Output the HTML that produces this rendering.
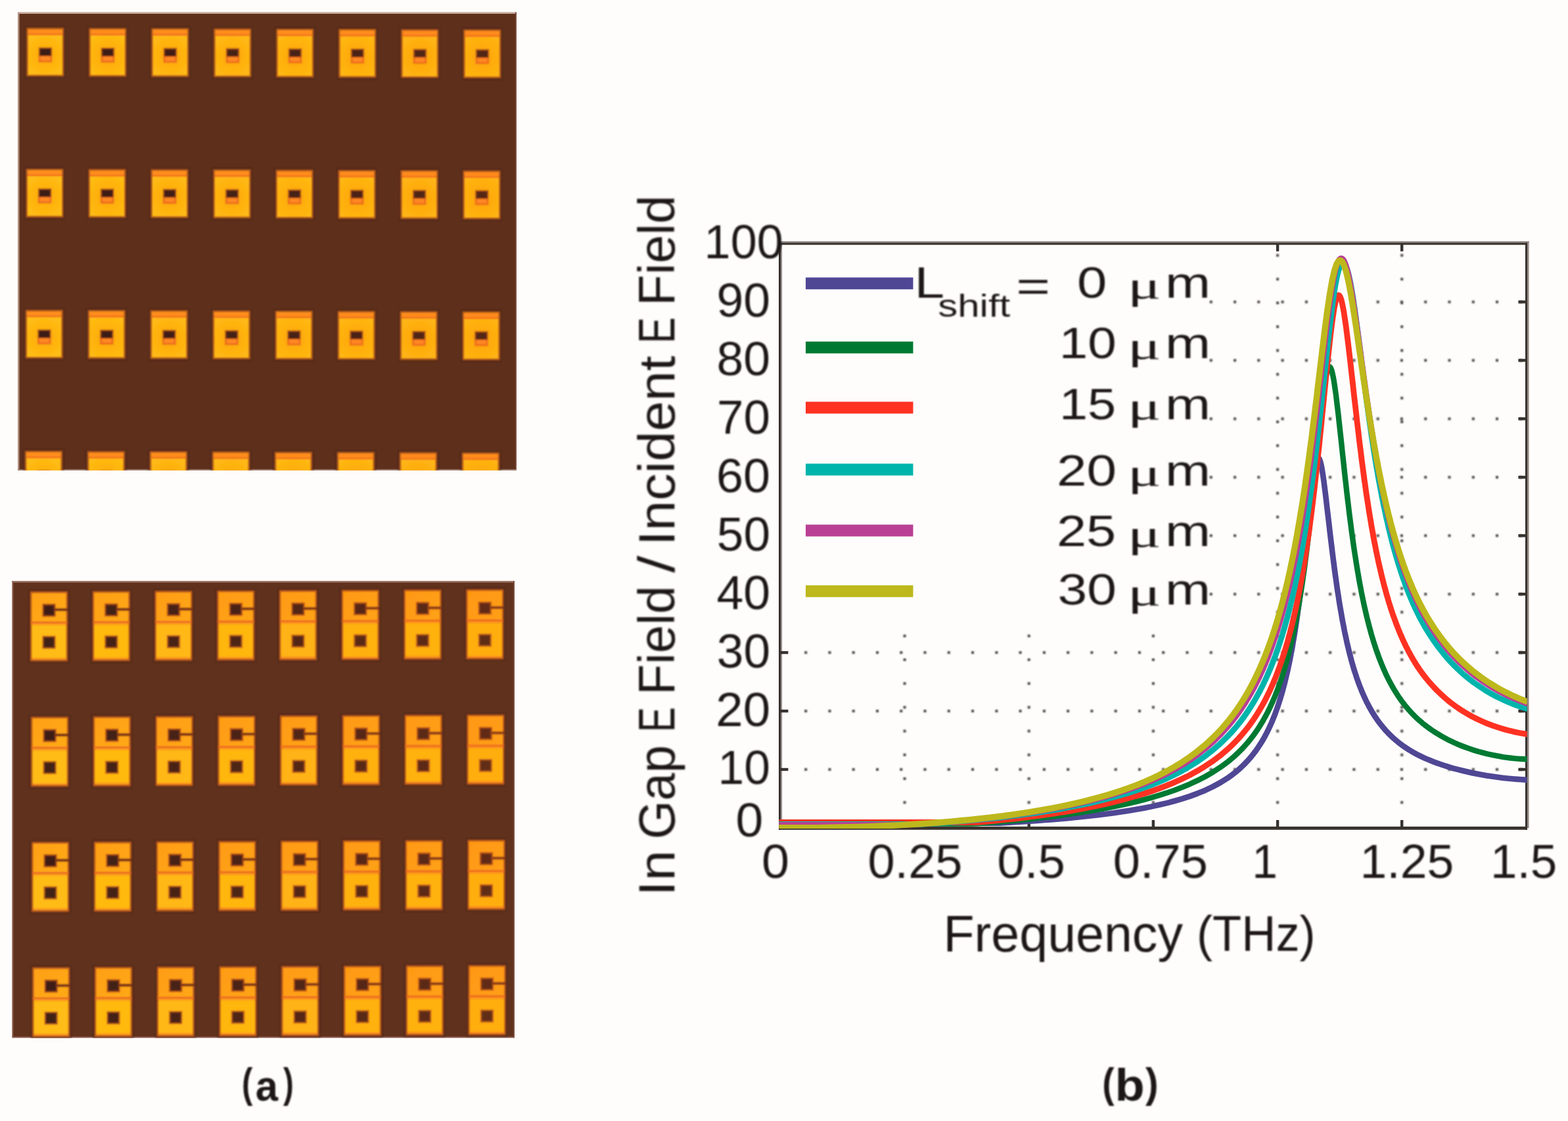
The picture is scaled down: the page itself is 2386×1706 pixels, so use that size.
<!DOCTYPE html>
<html lang="en"><head><meta charset="utf-8"><title>Figure</title>
<style>
html,body{margin:0;padding:0;background:#fefdfc;}
body{width:2386px;height:1706px;overflow:hidden;}
svg{display:block;}
text{font-family:"Liberation Sans",sans-serif;fill:#1c1816;}
</style></head><body>
<svg width="2386" height="1706" viewBox="0 0 2386 1706">
<defs>
<filter id="b1" x="-5%" y="-5%" width="110%" height="110%"><feGaussianBlur stdDeviation="1.3"/></filter>
<filter id="b3" x="-1%" y="-1%" width="102%" height="102%"><feGaussianBlur stdDeviation="0.9"/></filter>
<filter id="b4" x="-2%" y="-2%" width="104%" height="104%"><feGaussianBlur stdDeviation="0.95"/></filter>
<filter id="b2" x="-5%" y="-5%" width="110%" height="110%"><feGaussianBlur stdDeviation="0.7"/></filter>
<radialGradient id="gg" gradientUnits="userSpaceOnUse" cx="28.5" cy="42" r="40"><stop offset="0" stop-color="#ffa50e"/><stop offset="0.45" stop-color="#ffb410"/><stop offset="1" stop-color="#ffc014"/></radialGradient>
<g id="ca">
<rect x="-2.5" y="-2.5" width="62" height="79" fill="#4a2414" opacity="0.5"/>
<rect x="0" y="0" width="57" height="74" fill="#b45a1c"/>
<rect x="2.5" y="2.5" width="52" height="69" fill="url(#gg)"/>
<rect x="2.5" y="2.5" width="52" height="6.6" fill="#ff8e1c"/>
<rect x="2.5" y="8.8" width="52" height="2.4" fill="#f06c22"/>
<rect x="17.9" y="29.3" width="21.6" height="23.8" fill="#f09812"/>
<rect x="18.9" y="30.3" width="19.6" height="13" fill="#8e3e18"/>
<rect x="18.9" y="43" width="19.6" height="9.1" fill="#ee6a20"/>
<rect x="20.8" y="32.2" width="15.8" height="9.8" fill="#3a1c14"/>
<rect x="21.4" y="43.8" width="14.6" height="6" fill="#ff8a24"/>
</g>
<linearGradient id="gu" x1="0" y1="0" x2="1" y2="1"><stop offset="0" stop-color="#ffa012"/><stop offset="1" stop-color="#ffaa18"/></linearGradient>
<g id="cb">
<rect x="-2.5" y="-2.5" width="62" height="111.5" fill="#4a2414" opacity="0.5"/>
<rect x="0" y="0" width="57" height="106.5" fill="#b8581e"/>
<rect x="2.4" y="2.6" width="52.2" height="44" fill="url(#gu)"/>
<rect x="0.8" y="45.9" width="55.4" height="3" fill="#ea6a24"/>
<rect x="2.4" y="48.8" width="52.2" height="3" fill="#ffa01c"/>
<rect x="2.4" y="51.6" width="52.2" height="49.8" fill="#ffbc12"/>
<rect x="2.4" y="101.2" width="52.2" height="2.6" fill="#ff9c20"/>
<rect x="17.8" y="18.2" width="21.4" height="21" fill="#f08a14"/><rect x="18.8" y="19.2" width="19.4" height="19" fill="#94401a"/>
<rect x="20.8" y="21.4" width="15.4" height="14.8" fill="#3e1e16"/>
<rect x="36" y="25.6" width="21" height="4.6" fill="#a04a18"/><rect x="36" y="26.6" width="21" height="2.6" fill="#6e3016"/>
<rect x="17.8" y="67" width="21.4" height="21" fill="#f8a014"/><rect x="18.8" y="68" width="19.4" height="19" fill="#9a481a"/>
<rect x="20.8" y="70" width="15.4" height="15" fill="#402018"/>
</g>
</defs>
<rect width="2386" height="1706" fill="#fefdfc"/>

<clipPath id="cpa"><rect x="27.2" y="18.5" width="758.8" height="697.5"/></clipPath>
<g clip-path="url(#cpa)"><rect x="27.2" y="18.5" width="758.8" height="697.5" fill="#5e301c"/>
<rect x="27.2" y="18.5" width="758.8" height="2.5" fill="#c9aa9c"/><rect x="27.2" y="18.5" width="2.2" height="697.5" fill="#b89888"/><rect x="784" y="18.5" width="2" height="697.5" fill="#7a4a3c"/><rect x="27.2" y="714" width="758.8" height="2" fill="#9a7a6c"/>
<g filter="url(#b1)">
<use href="#ca" x="40.3" y="42.3"/>
<use href="#ca" x="135.3" y="42.7"/>
<rect x="136.3" y="43.7" width="55" height="72" fill="#ff7a10" opacity="0.018"/>
<use href="#ca" x="230.3" y="43.0"/>
<rect x="231.3" y="44.0" width="55" height="72" fill="#ff7a10" opacity="0.036"/>
<use href="#ca" x="325.3" y="43.4"/>
<rect x="326.3" y="44.4" width="55" height="72" fill="#ff7a10" opacity="0.054"/>
<use href="#ca" x="420.3" y="43.8"/>
<rect x="421.3" y="44.8" width="55" height="72" fill="#ff7a10" opacity="0.072"/>
<use href="#ca" x="515.3" y="44.1"/>
<rect x="516.3" y="45.1" width="55" height="72" fill="#ff7a10" opacity="0.090"/>
<use href="#ca" x="610.3" y="44.5"/>
<rect x="611.3" y="45.5" width="55" height="72" fill="#ff7a10" opacity="0.108"/>
<use href="#ca" x="705.3" y="44.9"/>
<rect x="706.3" y="45.9" width="55" height="72" fill="#ff7a10" opacity="0.126"/>
<use href="#ca" x="39.5" y="256.9"/>
<use href="#ca" x="134.5" y="257.3"/>
<rect x="135.5" y="258.3" width="55" height="72" fill="#ff7a10" opacity="0.018"/>
<use href="#ca" x="229.5" y="257.6"/>
<rect x="230.5" y="258.6" width="55" height="72" fill="#ff7a10" opacity="0.036"/>
<use href="#ca" x="324.5" y="258.0"/>
<rect x="325.5" y="259.0" width="55" height="72" fill="#ff7a10" opacity="0.054"/>
<use href="#ca" x="419.5" y="258.4"/>
<rect x="420.5" y="259.4" width="55" height="72" fill="#ff7a10" opacity="0.072"/>
<use href="#ca" x="514.5" y="258.8"/>
<rect x="515.5" y="259.8" width="55" height="72" fill="#ff7a10" opacity="0.090"/>
<use href="#ca" x="609.5" y="259.1"/>
<rect x="610.5" y="260.1" width="55" height="72" fill="#ff7a10" opacity="0.108"/>
<use href="#ca" x="704.5" y="259.5"/>
<rect x="705.5" y="260.5" width="55" height="72" fill="#ff7a10" opacity="0.126"/>
<use href="#ca" x="38.7" y="471.5"/>
<use href="#ca" x="133.7" y="471.9"/>
<rect x="134.7" y="472.9" width="55" height="72" fill="#ff7a10" opacity="0.018"/>
<use href="#ca" x="228.7" y="472.2"/>
<rect x="229.7" y="473.2" width="55" height="72" fill="#ff7a10" opacity="0.036"/>
<use href="#ca" x="323.7" y="472.6"/>
<rect x="324.7" y="473.6" width="55" height="72" fill="#ff7a10" opacity="0.054"/>
<use href="#ca" x="418.7" y="473.0"/>
<rect x="419.7" y="474.0" width="55" height="72" fill="#ff7a10" opacity="0.072"/>
<use href="#ca" x="513.7" y="473.3"/>
<rect x="514.7" y="474.3" width="55" height="72" fill="#ff7a10" opacity="0.090"/>
<use href="#ca" x="608.7" y="473.7"/>
<rect x="609.7" y="474.7" width="55" height="72" fill="#ff7a10" opacity="0.108"/>
<use href="#ca" x="703.7" y="474.1"/>
<rect x="704.7" y="475.1" width="55" height="72" fill="#ff7a10" opacity="0.126"/>
<use href="#ca" x="37.9" y="686.1"/>
<use href="#ca" x="132.9" y="686.5"/>
<rect x="133.9" y="687.5" width="55" height="72" fill="#ff7a10" opacity="0.018"/>
<use href="#ca" x="227.9" y="686.8"/>
<rect x="228.9" y="687.8" width="55" height="72" fill="#ff7a10" opacity="0.036"/>
<use href="#ca" x="322.9" y="687.2"/>
<rect x="323.9" y="688.2" width="55" height="72" fill="#ff7a10" opacity="0.054"/>
<use href="#ca" x="417.9" y="687.6"/>
<rect x="418.9" y="688.6" width="55" height="72" fill="#ff7a10" opacity="0.072"/>
<use href="#ca" x="512.9" y="687.9"/>
<rect x="513.9" y="688.9" width="55" height="72" fill="#ff7a10" opacity="0.090"/>
<use href="#ca" x="607.9" y="688.3"/>
<rect x="608.9" y="689.3" width="55" height="72" fill="#ff7a10" opacity="0.108"/>
<use href="#ca" x="702.9" y="688.7"/>
<rect x="703.9" y="689.7" width="55" height="72" fill="#ff7a10" opacity="0.126"/>
</g></g>
<clipPath id="cpb"><rect x="18.4" y="884" width="764.6" height="695.5"/></clipPath>
<g clip-path="url(#cpb)"><rect x="18.4" y="884" width="764.6" height="695.5" fill="#60321e"/>
<rect x="18.4" y="884" width="764.6" height="2.5" fill="#a07868"/><rect x="18.4" y="884" width="2" height="695.5" fill="#8a5a48"/><rect x="781" y="884" width="2" height="695.5" fill="#7a4a3c"/><rect x="18.4" y="1577.5" width="764.6" height="2" fill="#8a5a4c"/>
<g filter="url(#b1)">
<use href="#cb" x="46.0" y="900.0"/>
<use href="#cb" x="140.8" y="899.5"/>
<rect x="141.8" y="900.5" width="55" height="104.5" fill="#ff7010" opacity="0.025"/>
<use href="#cb" x="235.5" y="899.1"/>
<rect x="236.5" y="900.1" width="55" height="104.5" fill="#ff7010" opacity="0.050"/>
<use href="#cb" x="330.3" y="898.6"/>
<rect x="331.3" y="899.6" width="55" height="104.5" fill="#ff7010" opacity="0.075"/>
<use href="#cb" x="425.0" y="898.2"/>
<rect x="426.0" y="899.2" width="55" height="104.5" fill="#ff7010" opacity="0.100"/>
<use href="#cb" x="519.8" y="897.7"/>
<rect x="520.8" y="898.7" width="55" height="104.5" fill="#ff7010" opacity="0.125"/>
<use href="#cb" x="614.6" y="897.2"/>
<rect x="615.6" y="898.2" width="55" height="104.5" fill="#ff7010" opacity="0.150"/>
<use href="#cb" x="709.3" y="896.8"/>
<rect x="710.3" y="897.8" width="55" height="104.5" fill="#ff7010" opacity="0.175"/>
<use href="#cb" x="47.1" y="1090.7"/>
<use href="#cb" x="141.8" y="1090.2"/>
<rect x="142.8" y="1091.2" width="55" height="104.5" fill="#ff7010" opacity="0.025"/>
<use href="#cb" x="236.6" y="1089.8"/>
<rect x="237.6" y="1090.8" width="55" height="104.5" fill="#ff7010" opacity="0.050"/>
<use href="#cb" x="331.4" y="1089.3"/>
<rect x="332.4" y="1090.3" width="55" height="104.5" fill="#ff7010" opacity="0.075"/>
<use href="#cb" x="426.1" y="1088.8"/>
<rect x="427.1" y="1089.8" width="55" height="104.5" fill="#ff7010" opacity="0.100"/>
<use href="#cb" x="520.9" y="1088.4"/>
<rect x="521.9" y="1089.4" width="55" height="104.5" fill="#ff7010" opacity="0.125"/>
<use href="#cb" x="615.6" y="1087.9"/>
<rect x="616.6" y="1088.9" width="55" height="104.5" fill="#ff7010" opacity="0.150"/>
<use href="#cb" x="710.4" y="1087.5"/>
<rect x="711.4" y="1088.5" width="55" height="104.5" fill="#ff7010" opacity="0.175"/>
<use href="#cb" x="48.1" y="1281.3"/>
<use href="#cb" x="142.9" y="1280.9"/>
<rect x="143.9" y="1281.9" width="55" height="104.5" fill="#ff7010" opacity="0.025"/>
<use href="#cb" x="237.7" y="1280.4"/>
<rect x="238.7" y="1281.4" width="55" height="104.5" fill="#ff7010" opacity="0.050"/>
<use href="#cb" x="332.4" y="1280.0"/>
<rect x="333.4" y="1281.0" width="55" height="104.5" fill="#ff7010" opacity="0.075"/>
<use href="#cb" x="427.2" y="1279.5"/>
<rect x="428.2" y="1280.5" width="55" height="104.5" fill="#ff7010" opacity="0.100"/>
<use href="#cb" x="521.9" y="1279.0"/>
<rect x="522.9" y="1280.0" width="55" height="104.5" fill="#ff7010" opacity="0.125"/>
<use href="#cb" x="616.7" y="1278.6"/>
<rect x="617.7" y="1279.6" width="55" height="104.5" fill="#ff7010" opacity="0.150"/>
<use href="#cb" x="711.5" y="1278.1"/>
<rect x="712.5" y="1279.1" width="55" height="104.5" fill="#ff7010" opacity="0.175"/>
<use href="#cb" x="49.2" y="1472.0"/>
<use href="#cb" x="144.0" y="1471.5"/>
<rect x="145.0" y="1472.5" width="55" height="104.5" fill="#ff7010" opacity="0.025"/>
<use href="#cb" x="238.7" y="1471.1"/>
<rect x="239.7" y="1472.1" width="55" height="104.5" fill="#ff7010" opacity="0.050"/>
<use href="#cb" x="333.5" y="1470.6"/>
<rect x="334.5" y="1471.6" width="55" height="104.5" fill="#ff7010" opacity="0.075"/>
<use href="#cb" x="428.2" y="1470.2"/>
<rect x="429.2" y="1471.2" width="55" height="104.5" fill="#ff7010" opacity="0.100"/>
<use href="#cb" x="523.0" y="1469.7"/>
<rect x="524.0" y="1470.7" width="55" height="104.5" fill="#ff7010" opacity="0.125"/>
<use href="#cb" x="617.8" y="1469.2"/>
<rect x="618.8" y="1470.2" width="55" height="104.5" fill="#ff7010" opacity="0.150"/>
<use href="#cb" x="712.5" y="1468.8"/>
<rect x="713.5" y="1469.8" width="55" height="104.5" fill="#ff7010" opacity="0.175"/>
</g></g>
<g filter="url(#b2)">
<g fill="#4a4644" filter="url(#b3)">
<rect x="1224.2" y="1169.0" width="4" height="4"/><rect x="1260.5" y="1169.0" width="4" height="4"/><rect x="1296.7" y="1169.0" width="4" height="4"/><rect x="1333.0" y="1169.0" width="4" height="4"/><rect x="1369.3" y="1169.0" width="4" height="4"/><rect x="1405.5" y="1169.0" width="4" height="4"/><rect x="1441.8" y="1169.0" width="4" height="4"/><rect x="1478.1" y="1169.0" width="4" height="4"/><rect x="1514.4" y="1169.0" width="4" height="4"/><rect x="1550.6" y="1169.0" width="4" height="4"/><rect x="1586.9" y="1169.0" width="4" height="4"/><rect x="1623.2" y="1169.0" width="4" height="4"/><rect x="1659.4" y="1169.0" width="4" height="4"/><rect x="1695.7" y="1169.0" width="4" height="4"/><rect x="1732.0" y="1169.0" width="4" height="4"/><rect x="1768.2" y="1169.0" width="4" height="4"/><rect x="1804.5" y="1169.0" width="4" height="4"/><rect x="1840.8" y="1169.0" width="4" height="4"/><rect x="1877.1" y="1169.0" width="4" height="4"/><rect x="1913.3" y="1169.0" width="4" height="4"/><rect x="1949.6" y="1169.0" width="4" height="4"/><rect x="1985.9" y="1169.0" width="4" height="4"/><rect x="2022.1" y="1169.0" width="4" height="4"/><rect x="2058.4" y="1169.0" width="4" height="4"/><rect x="2094.7" y="1169.0" width="4" height="4"/><rect x="2130.9" y="1169.0" width="4" height="4"/><rect x="2167.2" y="1169.0" width="4" height="4"/><rect x="2203.5" y="1169.0" width="4" height="4"/><rect x="2239.8" y="1169.0" width="4" height="4"/><rect x="2276.0" y="1169.0" width="4" height="4"/><rect x="2312.3" y="1169.0" width="4" height="4"/>
<rect x="1224.2" y="1080.1" width="4" height="4"/><rect x="1260.5" y="1080.1" width="4" height="4"/><rect x="1296.7" y="1080.1" width="4" height="4"/><rect x="1333.0" y="1080.1" width="4" height="4"/><rect x="1369.3" y="1080.1" width="4" height="4"/><rect x="1405.5" y="1080.1" width="4" height="4"/><rect x="1441.8" y="1080.1" width="4" height="4"/><rect x="1478.1" y="1080.1" width="4" height="4"/><rect x="1514.4" y="1080.1" width="4" height="4"/><rect x="1550.6" y="1080.1" width="4" height="4"/><rect x="1586.9" y="1080.1" width="4" height="4"/><rect x="1623.2" y="1080.1" width="4" height="4"/><rect x="1659.4" y="1080.1" width="4" height="4"/><rect x="1695.7" y="1080.1" width="4" height="4"/><rect x="1732.0" y="1080.1" width="4" height="4"/><rect x="1768.2" y="1080.1" width="4" height="4"/><rect x="1804.5" y="1080.1" width="4" height="4"/><rect x="1840.8" y="1080.1" width="4" height="4"/><rect x="1877.1" y="1080.1" width="4" height="4"/><rect x="1913.3" y="1080.1" width="4" height="4"/><rect x="1949.6" y="1080.1" width="4" height="4"/><rect x="1985.9" y="1080.1" width="4" height="4"/><rect x="2022.1" y="1080.1" width="4" height="4"/><rect x="2058.4" y="1080.1" width="4" height="4"/><rect x="2094.7" y="1080.1" width="4" height="4"/><rect x="2130.9" y="1080.1" width="4" height="4"/><rect x="2167.2" y="1080.1" width="4" height="4"/><rect x="2203.5" y="1080.1" width="4" height="4"/><rect x="2239.8" y="1080.1" width="4" height="4"/><rect x="2276.0" y="1080.1" width="4" height="4"/><rect x="2312.3" y="1080.1" width="4" height="4"/>
<rect x="1224.2" y="991.1" width="4" height="4"/><rect x="1260.5" y="991.1" width="4" height="4"/><rect x="1296.7" y="991.1" width="4" height="4"/><rect x="1333.0" y="991.1" width="4" height="4"/><rect x="1369.3" y="991.1" width="4" height="4"/><rect x="1405.5" y="991.1" width="4" height="4"/><rect x="1441.8" y="991.1" width="4" height="4"/><rect x="1478.1" y="991.1" width="4" height="4"/><rect x="1514.4" y="991.1" width="4" height="4"/><rect x="1550.6" y="991.1" width="4" height="4"/><rect x="1586.9" y="991.1" width="4" height="4"/><rect x="1623.2" y="991.1" width="4" height="4"/><rect x="1659.4" y="991.1" width="4" height="4"/><rect x="1695.7" y="991.1" width="4" height="4"/><rect x="1732.0" y="991.1" width="4" height="4"/><rect x="1768.2" y="991.1" width="4" height="4"/><rect x="1804.5" y="991.1" width="4" height="4"/><rect x="1840.8" y="991.1" width="4" height="4"/><rect x="1877.1" y="991.1" width="4" height="4"/><rect x="1913.3" y="991.1" width="4" height="4"/><rect x="1949.6" y="991.1" width="4" height="4"/><rect x="1985.9" y="991.1" width="4" height="4"/><rect x="2022.1" y="991.1" width="4" height="4"/><rect x="2058.4" y="991.1" width="4" height="4"/><rect x="2094.7" y="991.1" width="4" height="4"/><rect x="2130.9" y="991.1" width="4" height="4"/><rect x="2167.2" y="991.1" width="4" height="4"/><rect x="2203.5" y="991.1" width="4" height="4"/><rect x="2239.8" y="991.1" width="4" height="4"/><rect x="2276.0" y="991.1" width="4" height="4"/><rect x="2312.3" y="991.1" width="4" height="4"/>
<rect x="1840.8" y="902.2" width="4" height="4"/><rect x="1877.1" y="902.2" width="4" height="4"/><rect x="1913.3" y="902.2" width="4" height="4"/><rect x="1949.6" y="902.2" width="4" height="4"/><rect x="1985.9" y="902.2" width="4" height="4"/><rect x="2022.1" y="902.2" width="4" height="4"/><rect x="2058.4" y="902.2" width="4" height="4"/><rect x="2094.7" y="902.2" width="4" height="4"/><rect x="2130.9" y="902.2" width="4" height="4"/><rect x="2167.2" y="902.2" width="4" height="4"/><rect x="2203.5" y="902.2" width="4" height="4"/><rect x="2239.8" y="902.2" width="4" height="4"/><rect x="2276.0" y="902.2" width="4" height="4"/><rect x="2312.3" y="902.2" width="4" height="4"/>
<rect x="1840.8" y="813.2" width="4" height="4"/><rect x="1877.1" y="813.2" width="4" height="4"/><rect x="1913.3" y="813.2" width="4" height="4"/><rect x="1949.6" y="813.2" width="4" height="4"/><rect x="1985.9" y="813.2" width="4" height="4"/><rect x="2022.1" y="813.2" width="4" height="4"/><rect x="2058.4" y="813.2" width="4" height="4"/><rect x="2094.7" y="813.2" width="4" height="4"/><rect x="2130.9" y="813.2" width="4" height="4"/><rect x="2167.2" y="813.2" width="4" height="4"/><rect x="2203.5" y="813.2" width="4" height="4"/><rect x="2239.8" y="813.2" width="4" height="4"/><rect x="2276.0" y="813.2" width="4" height="4"/><rect x="2312.3" y="813.2" width="4" height="4"/>
<rect x="1840.8" y="724.3" width="4" height="4"/><rect x="1877.1" y="724.3" width="4" height="4"/><rect x="1913.3" y="724.3" width="4" height="4"/><rect x="1949.6" y="724.3" width="4" height="4"/><rect x="1985.9" y="724.3" width="4" height="4"/><rect x="2022.1" y="724.3" width="4" height="4"/><rect x="2058.4" y="724.3" width="4" height="4"/><rect x="2094.7" y="724.3" width="4" height="4"/><rect x="2130.9" y="724.3" width="4" height="4"/><rect x="2167.2" y="724.3" width="4" height="4"/><rect x="2203.5" y="724.3" width="4" height="4"/><rect x="2239.8" y="724.3" width="4" height="4"/><rect x="2276.0" y="724.3" width="4" height="4"/><rect x="2312.3" y="724.3" width="4" height="4"/>
<rect x="1840.8" y="635.4" width="4" height="4"/><rect x="1877.1" y="635.4" width="4" height="4"/><rect x="1913.3" y="635.4" width="4" height="4"/><rect x="1949.6" y="635.4" width="4" height="4"/><rect x="1985.9" y="635.4" width="4" height="4"/><rect x="2022.1" y="635.4" width="4" height="4"/><rect x="2058.4" y="635.4" width="4" height="4"/><rect x="2094.7" y="635.4" width="4" height="4"/><rect x="2130.9" y="635.4" width="4" height="4"/><rect x="2167.2" y="635.4" width="4" height="4"/><rect x="2203.5" y="635.4" width="4" height="4"/><rect x="2239.8" y="635.4" width="4" height="4"/><rect x="2276.0" y="635.4" width="4" height="4"/><rect x="2312.3" y="635.4" width="4" height="4"/>
<rect x="1840.8" y="546.4" width="4" height="4"/><rect x="1877.1" y="546.4" width="4" height="4"/><rect x="1913.3" y="546.4" width="4" height="4"/><rect x="1949.6" y="546.4" width="4" height="4"/><rect x="1985.9" y="546.4" width="4" height="4"/><rect x="2022.1" y="546.4" width="4" height="4"/><rect x="2058.4" y="546.4" width="4" height="4"/><rect x="2094.7" y="546.4" width="4" height="4"/><rect x="2130.9" y="546.4" width="4" height="4"/><rect x="2167.2" y="546.4" width="4" height="4"/><rect x="2203.5" y="546.4" width="4" height="4"/><rect x="2239.8" y="546.4" width="4" height="4"/><rect x="2276.0" y="546.4" width="4" height="4"/><rect x="2312.3" y="546.4" width="4" height="4"/>
<rect x="1840.8" y="457.5" width="4" height="4"/><rect x="1877.1" y="457.5" width="4" height="4"/><rect x="1913.3" y="457.5" width="4" height="4"/><rect x="1949.6" y="457.5" width="4" height="4"/><rect x="1985.9" y="457.5" width="4" height="4"/><rect x="2022.1" y="457.5" width="4" height="4"/><rect x="2058.4" y="457.5" width="4" height="4"/><rect x="2094.7" y="457.5" width="4" height="4"/><rect x="2130.9" y="457.5" width="4" height="4"/><rect x="2167.2" y="457.5" width="4" height="4"/><rect x="2203.5" y="457.5" width="4" height="4"/><rect x="2239.8" y="457.5" width="4" height="4"/><rect x="2276.0" y="457.5" width="4" height="4"/><rect x="2312.3" y="457.5" width="4" height="4"/>
<rect x="1374.6" y="965.8" width="4" height="4"/><rect x="1374.6" y="1002.0" width="4" height="4"/><rect x="1374.6" y="1038.2" width="4" height="4"/><rect x="1374.6" y="1074.4" width="4" height="4"/><rect x="1374.6" y="1110.6" width="4" height="4"/><rect x="1374.6" y="1146.8" width="4" height="4"/><rect x="1374.6" y="1183.0" width="4" height="4"/><rect x="1374.6" y="1219.2" width="4" height="4"/>
<rect x="1563.7" y="965.8" width="4" height="4"/><rect x="1563.7" y="1002.0" width="4" height="4"/><rect x="1563.7" y="1038.2" width="4" height="4"/><rect x="1563.7" y="1074.4" width="4" height="4"/><rect x="1563.7" y="1110.6" width="4" height="4"/><rect x="1563.7" y="1146.8" width="4" height="4"/><rect x="1563.7" y="1183.0" width="4" height="4"/><rect x="1563.7" y="1219.2" width="4" height="4"/>
<rect x="1752.9" y="965.8" width="4" height="4"/><rect x="1752.9" y="1002.0" width="4" height="4"/><rect x="1752.9" y="1038.2" width="4" height="4"/><rect x="1752.9" y="1074.4" width="4" height="4"/><rect x="1752.9" y="1110.6" width="4" height="4"/><rect x="1752.9" y="1146.8" width="4" height="4"/><rect x="1752.9" y="1183.0" width="4" height="4"/><rect x="1752.9" y="1219.2" width="4" height="4"/>
<rect x="1942.1" y="386.6" width="4" height="4"/><rect x="1942.1" y="422.8" width="4" height="4"/><rect x="1942.1" y="459.0" width="4" height="4"/><rect x="1942.1" y="495.2" width="4" height="4"/><rect x="1942.1" y="531.4" width="4" height="4"/><rect x="1942.1" y="567.6" width="4" height="4"/><rect x="1942.1" y="603.8" width="4" height="4"/><rect x="1942.1" y="640.0" width="4" height="4"/><rect x="1942.1" y="676.2" width="4" height="4"/><rect x="1942.1" y="712.4" width="4" height="4"/><rect x="1942.1" y="748.6" width="4" height="4"/><rect x="1942.1" y="784.8" width="4" height="4"/><rect x="1942.1" y="821.0" width="4" height="4"/><rect x="1942.1" y="857.2" width="4" height="4"/><rect x="1942.1" y="893.4" width="4" height="4"/><rect x="1942.1" y="929.6" width="4" height="4"/><rect x="1942.1" y="965.8" width="4" height="4"/><rect x="1942.1" y="1002.0" width="4" height="4"/><rect x="1942.1" y="1038.2" width="4" height="4"/><rect x="1942.1" y="1074.4" width="4" height="4"/><rect x="1942.1" y="1110.6" width="4" height="4"/><rect x="1942.1" y="1146.8" width="4" height="4"/><rect x="1942.1" y="1183.0" width="4" height="4"/><rect x="1942.1" y="1219.2" width="4" height="4"/>
<rect x="2131.2" y="386.6" width="4" height="4"/><rect x="2131.2" y="422.8" width="4" height="4"/><rect x="2131.2" y="459.0" width="4" height="4"/><rect x="2131.2" y="495.2" width="4" height="4"/><rect x="2131.2" y="531.4" width="4" height="4"/><rect x="2131.2" y="567.6" width="4" height="4"/><rect x="2131.2" y="603.8" width="4" height="4"/><rect x="2131.2" y="640.0" width="4" height="4"/><rect x="2131.2" y="676.2" width="4" height="4"/><rect x="2131.2" y="712.4" width="4" height="4"/><rect x="2131.2" y="748.6" width="4" height="4"/><rect x="2131.2" y="784.8" width="4" height="4"/><rect x="2131.2" y="821.0" width="4" height="4"/><rect x="2131.2" y="857.2" width="4" height="4"/><rect x="2131.2" y="893.4" width="4" height="4"/><rect x="2131.2" y="929.6" width="4" height="4"/><rect x="2131.2" y="965.8" width="4" height="4"/><rect x="2131.2" y="1002.0" width="4" height="4"/><rect x="2131.2" y="1038.2" width="4" height="4"/><rect x="2131.2" y="1074.4" width="4" height="4"/><rect x="2131.2" y="1110.6" width="4" height="4"/><rect x="2131.2" y="1146.8" width="4" height="4"/><rect x="2131.2" y="1183.0" width="4" height="4"/><rect x="2131.2" y="1219.2" width="4" height="4"/>
</g>
<rect x="1185.0" y="367.1" width="1141.6" height="2.6" fill="#958b87"/>
<rect x="2323.9" y="367.1" width="2.7" height="893.0999999999999" fill="#958b87"/>
<rect x="1187.8" y="371.0" width="2.3" height="889.5999999999999" fill="#958b87"/>
<rect x="1185.0" y="369.4" width="1139.0" height="3.2" fill="#38322f"/>
<rect x="1185.0" y="369.4" width="3" height="893.5999999999999" fill="#38322f"/>
<rect x="2321.0" y="369.4" width="3" height="893.5999999999999" fill="#38322f"/>
<rect x="1185.0" y="1257.9" width="1139.0" height="4.9" fill="#38322f"/>
<rect x="1374.4" y="1248.0" width="4.4" height="12" fill="#38322f"/>
<rect x="1563.5" y="1248.0" width="4.4" height="12" fill="#38322f"/>
<rect x="1752.7" y="1248.0" width="4.4" height="12" fill="#38322f"/>
<rect x="1941.9" y="1248.0" width="4.4" height="12" fill="#38322f"/>
<rect x="1941.9" y="370.5" width="4.4" height="12" fill="#38322f"/>
<rect x="2131.0" y="1248.0" width="4.4" height="12" fill="#38322f"/>
<rect x="2131.0" y="370.5" width="4.4" height="12" fill="#38322f"/>
<rect x="1187.4" y="1168.8" width="12" height="4.4" fill="#38322f"/>
<rect x="2310.4" y="1168.8" width="12" height="4.4" fill="#38322f"/>
<rect x="1187.4" y="1079.9" width="12" height="4.4" fill="#38322f"/>
<rect x="2310.4" y="1079.9" width="12" height="4.4" fill="#38322f"/>
<rect x="1187.4" y="990.9" width="12" height="4.4" fill="#38322f"/>
<rect x="2310.4" y="990.9" width="12" height="4.4" fill="#38322f"/>
<rect x="2310.4" y="902.0" width="12" height="4.4" fill="#38322f"/>
<rect x="2310.4" y="813.0" width="12" height="4.4" fill="#38322f"/>
<rect x="2310.4" y="724.1" width="12" height="4.4" fill="#38322f"/>
<rect x="2310.4" y="635.1" width="12" height="4.4" fill="#38322f"/>
<rect x="2310.4" y="546.2" width="12" height="4.4" fill="#38322f"/>
<rect x="2310.4" y="457.3" width="12" height="4.4" fill="#38322f"/>
<clipPath id="cpc"><rect x="1185.4" y="370.5" width="1138.3" height="890.4"/></clipPath><g clip-path="url(#cpc)" fill="none" stroke-linejoin="round" stroke-linecap="butt">
<polyline points="1184.4,1252.7 1196.0,1252.7 1207.6,1252.7 1219.2,1252.7 1230.7,1252.7 1242.3,1252.7 1253.9,1252.7 1265.5,1252.7 1277.1,1252.7 1288.7,1252.7 1300.3,1252.7 1311.9,1252.7 1323.5,1252.7 1335.1,1252.7 1346.7,1252.7 1358.3,1252.7 1369.9,1252.7 1381.5,1252.7 1393.1,1252.7 1404.7,1252.7 1416.2,1252.7 1427.8,1252.7 1439.4,1252.7 1451.0,1252.7 1462.6,1252.7 1474.2,1252.7 1485.8,1252.7 1497.4,1252.7 1509.0,1252.7 1520.6,1252.6 1532.2,1251.9 1543.8,1251.3 1555.4,1250.5 1567.0,1249.7 1578.6,1248.9 1590.2,1248.0 1601.7,1247.1 1613.3,1246.1 1624.9,1245.1 1636.5,1244.0 1648.1,1242.8 1659.7,1241.5 1671.3,1240.2 1682.9,1238.7 1694.5,1237.2 1706.1,1235.5 1717.7,1233.7 1729.3,1231.8 1740.9,1229.7 1752.5,1227.4 1764.1,1224.8 1775.7,1222.1 1787.2,1219.0 1798.8,1215.7 1810.4,1211.9 1822.0,1207.6 1833.6,1202.9 1845.2,1197.4 1856.8,1191.1 1868.4,1183.8 1869.6,1183.0 1870.7,1182.2 1871.9,1181.3 1873.1,1180.5 1874.2,1179.6 1875.4,1178.8 1876.6,1177.9 1877.7,1177.0 1878.9,1176.0 1880.1,1175.1 1881.3,1174.1 1882.4,1173.2 1883.6,1172.2 1884.8,1171.2 1885.9,1170.2 1887.1,1169.1 1888.3,1168.0 1889.4,1167.0 1890.6,1165.8 1891.8,1164.7 1892.9,1163.6 1894.1,1162.4 1895.3,1161.2 1896.4,1160.0 1897.6,1158.7 1898.8,1157.5 1900.0,1156.2 1901.1,1154.8 1902.3,1153.5 1903.5,1152.1 1904.6,1150.7 1905.8,1149.3 1907.0,1147.8 1908.1,1146.3 1909.3,1144.7 1910.5,1143.2 1911.6,1141.6 1912.8,1139.9 1914.0,1138.2 1915.1,1136.5 1916.3,1134.7 1917.5,1132.9 1918.6,1131.1 1919.8,1129.2 1921.0,1127.2 1922.2,1125.2 1923.3,1123.2 1924.5,1121.1 1925.7,1118.9 1926.8,1116.7 1928.0,1114.4 1929.2,1112.1 1930.3,1109.7 1931.5,1107.2 1932.7,1104.7 1933.8,1102.1 1935.0,1099.4 1936.2,1096.7 1937.3,1093.9 1938.5,1091.0 1939.7,1088.0 1940.9,1084.9 1942.0,1081.7 1943.2,1078.4 1944.4,1075.0 1945.5,1071.5 1946.7,1067.9 1947.9,1064.2 1949.0,1060.4 1950.2,1056.4 1951.4,1052.3 1952.5,1048.1 1953.7,1043.7 1954.9,1039.2 1956.0,1034.5 1957.2,1029.6 1958.4,1024.6 1959.6,1019.4 1960.7,1014.0 1961.9,1008.5 1963.1,1002.7 1964.2,996.7 1965.4,990.5 1966.6,984.1 1967.7,977.4 1968.9,970.5 1970.1,963.4 1971.2,956.0 1972.4,948.3 1973.6,940.3 1974.7,932.1 1975.9,923.6 1977.1,914.9 1978.2,905.8 1979.4,896.5 1980.6,886.9 1981.8,877.0 1982.9,866.9 1984.1,856.5 1985.3,845.9 1986.4,835.2 1987.6,824.3 1988.8,813.3 1989.9,802.2 1991.1,791.1 1992.3,780.1 1993.4,769.2 1994.6,758.6 1995.8,748.4 1996.9,738.6 1998.1,729.5 1999.3,721.2 2000.5,713.9 2001.6,707.7 2002.8,702.8 2004.0,699.3 2005.1,697.3 2006.3,696.9 2007.5,698.1 2008.6,700.8 2009.8,704.9 2011.0,710.3 2012.1,716.8 2013.3,724.4 2014.5,732.6 2015.6,741.6 2016.8,750.9 2018.0,760.6 2019.1,770.6 2020.3,780.6 2021.5,790.6 2022.7,800.7 2023.8,810.6 2025.0,820.5 2026.2,830.1 2027.3,839.6 2028.5,849.0 2029.7,858.1 2030.8,866.9 2032.0,875.6 2033.2,884.0 2034.3,892.2 2035.5,900.1 2036.7,907.7 2037.8,915.2 2039.0,922.4 2040.2,929.3 2041.4,936.1 2042.5,942.6 2043.7,948.8 2044.9,954.9 2046.0,960.8 2047.2,966.4 2048.4,971.9 2049.5,977.2 2050.7,982.3 2051.9,987.3 2053.0,992.0 2054.2,996.6 2055.4,1001.1 2056.5,1005.4 2057.7,1009.6 2058.9,1013.7 2060.0,1017.6 2061.2,1021.4 2062.4,1025.0 2063.6,1028.6 2064.7,1032.1 2065.9,1035.4 2067.1,1038.7 2068.2,1041.8 2069.4,1044.9 2070.6,1047.8 2071.7,1050.7 2072.9,1053.5 2074.1,1056.2 2075.2,1058.9 2076.4,1061.4 2077.6,1064.0 2078.7,1066.4 2079.9,1068.8 2081.1,1071.1 2082.3,1073.3 2083.4,1075.5 2084.6,1077.6 2085.8,1079.7 2086.9,1081.7 2088.1,1083.7 2089.3,1085.6 2090.4,1087.5 2091.6,1089.3 2092.8,1091.1 2093.9,1092.8 2095.1,1094.5 2096.3,1096.2 2097.4,1097.8 2098.6,1099.4 2099.8,1101.0 2101.0,1102.5 2102.1,1103.9 2103.3,1105.4 2104.5,1106.8 2105.6,1108.2 2106.8,1109.5 2108.0,1110.9 2109.1,1112.2 2110.3,1113.4 2111.5,1114.7 2112.6,1115.9 2113.8,1117.1 2115.0,1118.3 2116.1,1119.4 2117.3,1120.5 2118.5,1121.6 2119.6,1122.7 2120.8,1123.8 2122.0,1124.8 2123.2,1125.8 2124.3,1126.8 2125.5,1127.8 2126.7,1128.8 2127.8,1129.7 2129.0,1130.6 2130.2,1131.5 2131.3,1132.4 2132.5,1133.3 2133.7,1134.1 2134.8,1135.0 2136.0,1135.8 2137.2,1136.6 2138.3,1137.4 2139.5,1138.2 2140.7,1139.0 2141.9,1139.7 2143.0,1140.5 2144.2,1141.2 2145.4,1141.9 2146.5,1142.6 2147.7,1143.3 2148.9,1144.0 2150.0,1144.7 2151.2,1145.4 2152.4,1146.0 2153.5,1146.6 2154.7,1147.3 2155.9,1147.9 2157.0,1148.5 2158.2,1149.1 2159.4,1149.7 2160.5,1150.3 2161.7,1150.8 2162.9,1151.4 2164.1,1152.0 2165.2,1152.5 2166.4,1153.0 2167.6,1153.6 2168.7,1154.1 2169.9,1154.6 2171.1,1155.1 2176.4,1157.3 2181.7,1159.4 2187.0,1161.4 2192.3,1163.2 2197.6,1165.0 2202.8,1166.7 2208.1,1168.3 2213.4,1169.8 2218.7,1171.2 2224.0,1172.5 2229.3,1173.8 2234.6,1175.0 2239.9,1176.2 2245.2,1177.3 2250.5,1178.3 2255.8,1179.2 2261.1,1180.2 2266.4,1181.0 2271.7,1181.8 2277.0,1182.5 2282.3,1183.2 2287.6,1183.9 2292.9,1184.5 2298.2,1185.0 2303.5,1185.5 2308.8,1185.9 2314.1,1186.3 2319.4,1186.6 2324.7,1186.9" stroke="#4f4694" stroke-width="8.6"/>
<polyline points="1184.4,1253.6 1196.0,1253.6 1207.6,1253.6 1219.2,1253.6 1230.7,1253.6 1242.3,1253.6 1253.9,1253.6 1265.5,1253.6 1277.1,1253.6 1288.7,1253.6 1300.3,1253.6 1311.9,1253.6 1323.5,1253.6 1335.1,1253.6 1346.7,1253.6 1358.3,1253.6 1369.9,1253.6 1381.5,1253.6 1393.1,1253.6 1404.7,1253.6 1416.2,1253.6 1427.8,1253.6 1439.4,1253.6 1451.0,1253.6 1462.6,1253.6 1474.2,1253.6 1485.8,1253.3 1497.4,1252.5 1509.0,1251.7 1520.6,1250.8 1532.2,1249.8 1543.8,1248.8 1555.4,1247.7 1567.0,1246.5 1578.6,1245.2 1590.2,1243.9 1601.7,1242.5 1613.3,1241.0 1624.9,1239.4 1636.5,1237.7 1648.1,1235.9 1659.7,1234.0 1671.3,1232.0 1682.9,1229.9 1694.5,1227.6 1706.1,1225.2 1717.7,1222.6 1729.3,1219.9 1740.9,1216.9 1752.5,1213.7 1764.1,1210.3 1775.7,1206.6 1787.2,1202.6 1798.8,1198.1 1810.4,1193.3 1822.0,1187.9 1833.6,1182.0 1845.2,1175.3 1856.8,1167.8 1868.4,1159.3 1869.6,1158.3 1870.7,1157.4 1871.9,1156.4 1873.1,1155.5 1874.2,1154.5 1875.4,1153.5 1876.6,1152.5 1877.7,1151.4 1878.9,1150.4 1880.1,1149.3 1881.3,1148.2 1882.4,1147.2 1883.6,1146.0 1884.8,1144.9 1885.9,1143.8 1887.1,1142.6 1888.3,1141.4 1889.4,1140.2 1890.6,1139.0 1891.8,1137.8 1892.9,1136.5 1894.1,1135.2 1895.3,1133.9 1896.4,1132.6 1897.6,1131.2 1898.8,1129.9 1900.0,1128.5 1901.1,1127.0 1902.3,1125.6 1903.5,1124.1 1904.6,1122.6 1905.8,1121.1 1907.0,1119.5 1908.1,1118.0 1909.3,1116.3 1910.5,1114.7 1911.6,1113.0 1912.8,1111.3 1914.0,1109.6 1915.1,1107.8 1916.3,1106.0 1917.5,1104.1 1918.6,1102.2 1919.8,1100.3 1921.0,1098.4 1922.2,1096.3 1923.3,1094.3 1924.5,1092.2 1925.7,1090.1 1926.8,1087.9 1928.0,1085.7 1929.2,1083.4 1930.3,1081.1 1931.5,1078.7 1932.7,1076.2 1933.8,1073.7 1935.0,1071.2 1936.2,1068.6 1937.3,1065.9 1938.5,1063.2 1939.7,1060.4 1940.9,1057.5 1942.0,1054.6 1943.2,1051.5 1944.4,1048.5 1945.5,1045.3 1946.7,1042.0 1947.9,1038.7 1949.0,1035.3 1950.2,1031.8 1951.4,1028.2 1952.5,1024.5 1953.7,1020.7 1954.9,1016.7 1956.0,1012.7 1957.2,1008.6 1958.4,1004.3 1959.6,1000.0 1960.7,995.5 1961.9,990.9 1963.1,986.1 1964.2,981.2 1965.4,976.1 1966.6,970.9 1967.7,965.6 1968.9,960.0 1970.1,954.3 1971.2,948.5 1972.4,942.4 1973.6,936.2 1974.7,929.7 1975.9,923.1 1977.1,916.2 1978.2,909.2 1979.4,901.9 1980.6,894.3 1981.8,886.6 1982.9,878.6 1984.1,870.3 1985.3,861.8 1986.4,853.0 1987.6,844.0 1988.8,834.7 1989.9,825.1 1991.1,815.2 1992.3,805.1 1993.4,794.8 1994.6,784.1 1995.8,773.3 1996.9,762.2 1998.1,750.8 1999.3,739.3 2000.5,727.7 2001.6,715.9 2002.8,704.0 2004.0,692.0 2005.1,680.1 2006.3,668.2 2007.5,656.4 2008.6,644.8 2009.8,633.5 2011.0,622.6 2012.1,612.2 2013.3,602.3 2014.5,593.1 2015.6,584.7 2016.8,577.3 2018.0,571.0 2019.1,565.8 2020.3,561.9 2021.5,559.3 2022.7,558.2 2023.8,558.4 2025.0,560.0 2026.2,563.0 2027.3,567.2 2028.5,572.6 2029.7,579.0 2030.8,586.4 2032.0,594.5 2033.2,603.3 2034.3,612.7 2035.5,622.6 2036.7,632.8 2037.8,643.3 2039.0,654.0 2040.2,664.8 2041.4,675.7 2042.5,686.6 2043.7,697.5 2044.9,708.3 2046.0,719.0 2047.2,729.6 2048.4,740.0 2049.5,750.2 2050.7,760.2 2051.9,770.0 2053.0,779.6 2054.2,788.9 2055.4,798.0 2056.5,806.9 2057.7,815.5 2058.9,823.9 2060.0,832.0 2061.2,840.0 2062.4,847.7 2063.6,855.1 2064.7,862.4 2065.9,869.4 2067.1,876.2 2068.2,882.8 2069.4,889.2 2070.6,895.5 2071.7,901.5 2072.9,907.3 2074.1,913.0 2075.2,918.5 2076.4,923.9 2077.6,929.1 2078.7,934.1 2079.9,939.0 2081.1,943.8 2082.3,948.4 2083.4,952.9 2084.6,957.2 2085.8,961.5 2086.9,965.6 2088.1,969.6 2089.3,973.5 2090.4,977.3 2091.6,981.0 2092.8,984.6 2093.9,988.1 2095.1,991.5 2096.3,994.8 2097.4,998.0 2098.6,1001.2 2099.8,1004.2 2101.0,1007.2 2102.1,1010.1 2103.3,1013.0 2104.5,1015.7 2105.6,1018.5 2106.8,1021.1 2108.0,1023.7 2109.1,1026.2 2110.3,1028.7 2111.5,1031.1 2112.6,1033.4 2113.8,1035.7 2115.0,1037.9 2116.1,1040.1 2117.3,1042.3 2118.5,1044.4 2119.6,1046.4 2120.8,1048.4 2122.0,1050.4 2123.2,1052.3 2124.3,1054.2 2125.5,1056.0 2126.7,1057.8 2127.8,1059.6 2129.0,1061.3 2130.2,1063.0 2131.3,1064.6 2132.5,1066.3 2133.7,1067.8 2134.8,1069.4 2136.0,1070.9 2137.2,1072.4 2138.3,1073.9 2139.5,1075.3 2140.7,1076.7 2141.9,1078.1 2143.0,1079.5 2144.2,1080.8 2145.4,1082.1 2146.5,1083.4 2147.7,1084.7 2148.9,1085.9 2150.0,1087.1 2151.2,1088.3 2152.4,1089.5 2153.5,1090.6 2154.7,1091.8 2155.9,1092.9 2157.0,1094.0 2158.2,1095.0 2159.4,1096.1 2160.5,1097.1 2161.7,1098.1 2162.9,1099.1 2164.1,1100.1 2165.2,1101.1 2166.4,1102.0 2167.6,1102.9 2168.7,1103.8 2169.9,1104.7 2171.1,1105.6 2176.4,1109.5 2181.7,1113.1 2187.0,1116.4 2192.3,1119.6 2197.6,1122.6 2202.8,1125.4 2208.1,1128.0 2213.4,1130.5 2218.7,1132.8 2224.0,1135.0 2229.3,1137.0 2234.6,1138.9 2239.9,1140.7 2245.2,1142.4 2250.5,1144.0 2255.8,1145.4 2261.1,1146.8 2266.4,1148.0 2271.7,1149.2 2277.0,1150.2 2282.3,1151.2 2287.6,1152.1 2292.9,1152.8 2298.2,1153.5 2303.5,1154.1 2308.8,1154.6 2314.1,1155.0 2319.4,1155.3 2324.7,1155.6" stroke="#007a33" stroke-width="8.4"/>
<polyline points="1184.4,1251.5 1196.0,1251.5 1207.6,1251.5 1219.2,1251.5 1230.7,1251.5 1242.3,1251.5 1253.9,1251.5 1265.5,1251.5 1277.1,1251.5 1288.7,1251.5 1300.3,1251.5 1311.9,1251.5 1323.5,1251.5 1335.1,1251.5 1346.7,1251.5 1358.3,1251.5 1369.9,1251.5 1381.5,1251.5 1393.1,1251.5 1404.7,1251.5 1416.2,1251.5 1427.8,1251.5 1439.4,1251.5 1451.0,1251.5 1462.6,1251.5 1474.2,1251.5 1485.8,1251.5 1497.4,1250.5 1509.0,1249.5 1520.6,1248.4 1532.2,1247.2 1543.8,1246.0 1555.4,1244.6 1567.0,1243.2 1578.6,1241.7 1590.2,1240.1 1601.7,1238.5 1613.3,1236.7 1624.9,1234.8 1636.5,1232.7 1648.1,1230.6 1659.7,1228.3 1671.3,1225.9 1682.9,1223.4 1694.5,1220.6 1706.1,1217.7 1717.7,1214.6 1729.3,1211.3 1740.9,1207.8 1752.5,1204.0 1764.1,1199.9 1775.7,1195.4 1787.2,1190.6 1798.8,1185.3 1810.4,1179.6 1822.0,1173.2 1833.6,1166.2 1845.2,1158.5 1856.8,1149.8 1868.4,1139.9 1869.6,1138.9 1870.7,1137.8 1871.9,1136.7 1873.1,1135.6 1874.2,1134.5 1875.4,1133.4 1876.6,1132.2 1877.7,1131.1 1878.9,1129.9 1880.1,1128.7 1881.3,1127.5 1882.4,1126.2 1883.6,1125.0 1884.8,1123.7 1885.9,1122.4 1887.1,1121.1 1888.3,1119.8 1889.4,1118.5 1890.6,1117.1 1891.8,1115.7 1892.9,1114.3 1894.1,1112.9 1895.3,1111.5 1896.4,1110.0 1897.6,1108.5 1898.8,1107.0 1900.0,1105.5 1901.1,1103.9 1902.3,1102.3 1903.5,1100.7 1904.6,1099.1 1905.8,1097.4 1907.0,1095.8 1908.1,1094.0 1909.3,1092.3 1910.5,1090.5 1911.6,1088.7 1912.8,1086.9 1914.0,1085.0 1915.1,1083.1 1916.3,1081.2 1917.5,1079.2 1918.6,1077.2 1919.8,1075.2 1921.0,1073.1 1922.2,1071.0 1923.3,1068.8 1924.5,1066.6 1925.7,1064.4 1926.8,1062.1 1928.0,1059.8 1929.2,1057.5 1930.3,1055.1 1931.5,1052.6 1932.7,1050.1 1933.8,1047.5 1935.0,1044.9 1936.2,1042.3 1937.3,1039.6 1938.5,1036.8 1939.7,1034.0 1940.9,1031.1 1942.0,1028.2 1943.2,1025.2 1944.4,1022.1 1945.5,1019.0 1946.7,1015.8 1947.9,1012.5 1949.0,1009.1 1950.2,1005.7 1951.4,1002.2 1952.5,998.6 1953.7,995.0 1954.9,991.2 1956.0,987.4 1957.2,983.5 1958.4,979.5 1959.6,975.4 1960.7,971.1 1961.9,966.8 1963.1,962.4 1964.2,957.9 1965.4,953.3 1966.6,948.5 1967.7,943.6 1968.9,938.6 1970.1,933.5 1971.2,928.2 1972.4,922.9 1973.6,917.3 1974.7,911.6 1975.9,905.8 1977.1,899.8 1978.2,893.7 1979.4,887.4 1980.6,880.9 1981.8,874.3 1982.9,867.4 1984.1,860.4 1985.3,853.2 1986.4,845.9 1987.6,838.3 1988.8,830.5 1989.9,822.5 1991.1,814.3 1992.3,805.8 1993.4,797.2 1994.6,788.3 1995.8,779.3 1996.9,770.0 1998.1,760.4 1999.3,750.7 2000.5,740.7 2001.6,730.5 2002.8,720.1 2004.0,709.5 2005.1,698.6 2006.3,687.6 2007.5,676.5 2008.6,665.1 2009.8,653.7 2011.0,642.1 2012.1,630.4 2013.3,618.7 2014.5,606.9 2015.6,595.2 2016.8,583.5 2018.0,571.9 2019.1,560.5 2020.3,549.2 2021.5,538.1 2022.7,527.4 2023.8,517.0 2025.0,507.0 2026.2,497.5 2027.3,488.5 2028.5,480.3 2029.7,472.8 2030.8,466.1 2032.0,460.5 2033.2,455.9 2034.3,452.4 2035.5,450.2 2036.7,449.2 2037.8,449.5 2039.0,451.0 2040.2,453.7 2041.4,457.6 2042.5,462.4 2043.7,468.2 2044.9,474.8 2046.0,482.1 2047.2,490.1 2048.4,498.5 2049.5,507.4 2050.7,516.7 2051.9,526.2 2053.0,536.0 2054.2,546.1 2055.4,556.2 2056.5,566.5 2057.7,576.8 2058.9,587.2 2060.0,597.6 2061.2,608.0 2062.4,618.3 2063.6,628.6 2064.7,638.7 2065.9,648.8 2067.1,658.7 2068.2,668.5 2069.4,678.1 2070.6,687.5 2071.7,696.8 2072.9,705.8 2074.1,714.7 2075.2,723.4 2076.4,731.9 2077.6,740.2 2078.7,748.4 2079.9,756.3 2081.1,764.0 2082.3,771.6 2083.4,778.9 2084.6,786.1 2085.8,793.1 2086.9,800.0 2088.1,806.6 2089.3,813.1 2090.4,819.4 2091.6,825.6 2092.8,831.6 2093.9,837.5 2095.1,843.2 2096.3,848.7 2097.4,854.2 2098.6,859.5 2099.8,864.6 2101.0,869.6 2102.1,874.6 2103.3,879.3 2104.5,884.0 2105.6,888.6 2106.8,893.0 2108.0,897.3 2109.1,901.6 2110.3,905.7 2111.5,909.7 2112.6,913.7 2113.8,917.5 2115.0,921.3 2116.1,925.0 2117.3,928.6 2118.5,932.1 2119.6,935.5 2120.8,938.8 2122.0,942.1 2123.2,945.3 2124.3,948.5 2125.5,951.5 2126.7,954.5 2127.8,957.5 2129.0,960.3 2130.2,963.2 2131.3,965.9 2132.5,968.6 2133.7,971.2 2134.8,973.8 2136.0,976.4 2137.2,978.8 2138.3,981.3 2139.5,983.7 2140.7,986.0 2141.9,988.3 2143.0,990.5 2144.2,992.7 2145.4,994.9 2146.5,997.0 2147.7,999.1 2148.9,1001.1 2150.0,1003.1 2151.2,1005.1 2152.4,1007.0 2153.5,1008.9 2154.7,1010.8 2155.9,1012.6 2157.0,1014.4 2158.2,1016.1 2159.4,1017.8 2160.5,1019.5 2161.7,1021.2 2162.9,1022.8 2164.1,1024.4 2165.2,1026.0 2166.4,1027.6 2167.6,1029.1 2168.7,1030.6 2169.9,1032.1 2171.1,1033.5 2176.4,1039.8 2181.7,1045.6 2187.0,1051.1 2192.3,1056.2 2197.6,1061.0 2202.8,1065.5 2208.1,1069.8 2213.4,1073.7 2218.7,1077.5 2224.0,1081.0 2229.3,1084.3 2234.6,1087.4 2239.9,1090.3 2245.2,1093.0 2250.5,1095.6 2255.8,1098.0 2261.1,1100.3 2266.4,1102.4 2271.7,1104.4 2277.0,1106.2 2282.3,1107.9 2287.6,1109.5 2292.9,1111.0 2298.2,1112.3 2303.5,1113.6 2308.8,1114.7 2314.1,1115.7 2319.4,1116.6 2324.7,1117.4" stroke="#ff3324" stroke-width="8.8"/>
<polyline points="1184.4,1254.5 1196.0,1254.5 1207.6,1254.5 1219.2,1254.5 1230.7,1254.5 1242.3,1254.5 1253.9,1254.5 1265.5,1254.5 1277.1,1254.5 1288.7,1254.5 1300.3,1254.5 1311.9,1254.5 1323.5,1254.5 1335.1,1254.5 1346.7,1254.5 1358.3,1254.5 1369.9,1254.5 1381.5,1254.5 1393.1,1254.5 1404.7,1254.1 1416.2,1253.4 1427.8,1252.6 1439.4,1251.8 1451.0,1250.9 1462.6,1249.9 1474.2,1248.9 1485.8,1247.9 1497.4,1246.7 1509.0,1245.6 1520.6,1244.3 1532.2,1242.9 1543.8,1241.5 1555.4,1240.0 1567.0,1238.4 1578.6,1236.8 1590.2,1235.0 1601.7,1233.1 1613.3,1231.1 1624.9,1229.0 1636.5,1226.8 1648.1,1224.4 1659.7,1221.9 1671.3,1219.2 1682.9,1216.3 1694.5,1213.3 1706.1,1210.0 1717.7,1206.5 1729.3,1202.8 1740.9,1198.7 1752.5,1194.4 1764.1,1189.7 1775.7,1184.6 1787.2,1179.0 1798.8,1173.0 1810.4,1166.3 1822.0,1159.0 1833.6,1150.9 1845.2,1141.8 1856.8,1131.7 1868.4,1120.4 1869.6,1119.1 1870.7,1117.9 1871.9,1116.6 1873.1,1115.4 1874.2,1114.1 1875.4,1112.8 1876.6,1111.4 1877.7,1110.1 1878.9,1108.7 1880.1,1107.4 1881.3,1106.0 1882.4,1104.5 1883.6,1103.1 1884.8,1101.6 1885.9,1100.2 1887.1,1098.7 1888.3,1097.2 1889.4,1095.6 1890.6,1094.1 1891.8,1092.5 1892.9,1090.9 1894.1,1089.2 1895.3,1087.6 1896.4,1085.9 1897.6,1084.2 1898.8,1082.5 1900.0,1080.7 1901.1,1078.9 1902.3,1077.1 1903.5,1075.3 1904.6,1073.4 1905.8,1071.5 1907.0,1069.6 1908.1,1067.7 1909.3,1065.7 1910.5,1063.7 1911.6,1061.6 1912.8,1059.5 1914.0,1057.4 1915.1,1055.3 1916.3,1053.1 1917.5,1050.9 1918.6,1048.6 1919.8,1046.3 1921.0,1044.0 1922.2,1041.6 1923.3,1039.2 1924.5,1036.7 1925.7,1034.2 1926.8,1031.7 1928.0,1029.1 1929.2,1026.4 1930.3,1023.8 1931.5,1021.0 1932.7,1018.2 1933.8,1015.4 1935.0,1012.5 1936.2,1009.6 1937.3,1006.6 1938.5,1003.5 1939.7,1000.4 1940.9,997.3 1942.0,994.0 1943.2,990.7 1944.4,987.4 1945.5,984.0 1946.7,980.5 1947.9,976.9 1949.0,973.3 1950.2,969.6 1951.4,965.8 1952.5,961.9 1953.7,958.0 1954.9,954.0 1956.0,949.9 1957.2,945.7 1958.4,941.4 1959.6,937.0 1960.7,932.5 1961.9,928.0 1963.1,923.3 1964.2,918.6 1965.4,913.7 1966.6,908.7 1967.7,903.6 1968.9,898.4 1970.1,893.1 1971.2,887.7 1972.4,882.1 1973.6,876.4 1974.7,870.6 1975.9,864.7 1977.1,858.6 1978.2,852.4 1979.4,846.0 1980.6,839.5 1981.8,832.8 1982.9,826.0 1984.1,819.1 1985.3,812.0 1986.4,804.7 1987.6,797.2 1988.8,789.6 1989.9,781.8 1991.1,773.8 1992.3,765.7 1993.4,757.4 1994.6,748.9 1995.8,740.2 1996.9,731.4 1998.1,722.4 1999.3,713.2 2000.5,703.8 2001.6,694.3 2002.8,684.5 2004.0,674.7 2005.1,664.6 2006.3,654.4 2007.5,644.1 2008.6,633.6 2009.8,623.0 2011.0,612.3 2012.1,601.6 2013.3,590.7 2014.5,579.8 2015.6,568.9 2016.8,558.0 2018.0,547.1 2019.1,536.3 2020.3,525.6 2021.5,515.0 2022.7,504.6 2023.8,494.4 2025.0,484.5 2026.2,474.9 2027.3,465.8 2028.5,457.0 2029.7,448.8 2030.8,441.1 2032.0,434.0 2033.2,427.5 2034.3,421.7 2035.5,416.7 2036.7,412.3 2037.8,408.6 2039.0,405.7 2040.2,403.4 2041.4,401.9 2042.5,401.0 2043.7,400.7 2044.9,401.2 2046.0,402.2 2047.2,403.9 2048.4,406.2 2049.5,409.1 2050.7,412.7 2051.9,416.9 2053.0,421.7 2054.2,427.1 2055.4,433.0 2056.5,439.5 2057.7,446.4 2058.9,453.7 2060.0,461.5 2061.2,469.5 2062.4,477.9 2063.6,486.5 2064.7,495.2 2065.9,504.1 2067.1,513.2 2068.2,522.3 2069.4,531.4 2070.6,540.6 2071.7,549.8 2072.9,558.9 2074.1,568.0 2075.2,577.1 2076.4,586.0 2077.6,594.9 2078.7,603.7 2079.9,612.4 2081.1,621.0 2082.3,629.4 2083.4,637.7 2084.6,645.9 2085.8,653.9 2086.9,661.8 2088.1,669.6 2089.3,677.2 2090.4,684.7 2091.6,692.0 2092.8,699.2 2093.9,706.3 2095.1,713.2 2096.3,720.0 2097.4,726.6 2098.6,733.1 2099.8,739.5 2101.0,745.7 2102.1,751.8 2103.3,757.8 2104.5,763.6 2105.6,769.3 2106.8,774.9 2108.0,780.4 2109.1,785.8 2110.3,791.0 2111.5,796.1 2112.6,801.2 2113.8,806.1 2115.0,810.9 2116.1,815.6 2117.3,820.2 2118.5,824.8 2119.6,829.2 2120.8,833.5 2122.0,837.8 2123.2,841.9 2124.3,846.0 2125.5,850.0 2126.7,853.9 2127.8,857.8 2129.0,861.5 2130.2,865.2 2131.3,868.8 2132.5,872.3 2133.7,875.8 2134.8,879.2 2136.0,882.5 2137.2,885.8 2138.3,889.0 2139.5,892.2 2140.7,895.2 2141.9,898.3 2143.0,901.2 2144.2,904.2 2145.4,907.0 2146.5,909.8 2147.7,912.6 2148.9,915.3 2150.0,918.0 2151.2,920.6 2152.4,923.1 2153.5,925.7 2154.7,928.1 2155.9,930.6 2157.0,932.9 2158.2,935.3 2159.4,937.6 2160.5,939.9 2161.7,942.1 2162.9,944.3 2164.1,946.4 2165.2,948.6 2166.4,950.6 2167.6,952.7 2168.7,954.7 2169.9,956.7 2171.1,958.6 2176.4,967.1 2181.7,975.0 2187.0,982.5 2192.3,989.4 2197.6,996.0 2202.8,1002.2 2208.1,1008.0 2213.4,1013.4 2218.7,1018.6 2224.0,1023.5 2229.3,1028.1 2234.6,1032.5 2239.9,1036.6 2245.2,1040.5 2250.5,1044.2 2255.8,1047.7 2261.1,1051.1 2266.4,1054.2 2271.7,1057.2 2277.0,1060.0 2282.3,1062.6 2287.6,1065.1 2292.9,1067.5 2298.2,1069.7 2303.5,1071.8 2308.8,1073.8 2314.1,1075.6 2319.4,1077.3 2324.7,1078.9" stroke="#00b4ac" stroke-width="8.8"/>
<polyline points="1184.4,1255.4 1196.0,1255.4 1207.6,1255.4 1219.2,1255.4 1230.7,1255.4 1242.3,1255.4 1253.9,1255.4 1265.5,1255.4 1277.1,1255.4 1288.7,1255.4 1300.3,1255.4 1311.9,1255.4 1323.5,1255.4 1335.1,1255.4 1346.7,1255.4 1358.3,1255.4 1369.9,1255.4 1381.5,1255.1 1393.1,1254.4 1404.7,1253.7 1416.2,1252.9 1427.8,1252.1 1439.4,1251.2 1451.0,1250.2 1462.6,1249.2 1474.2,1248.1 1485.8,1246.9 1497.4,1245.7 1509.0,1244.4 1520.6,1243.0 1532.2,1241.6 1543.8,1240.0 1555.4,1238.4 1567.0,1236.7 1578.6,1234.8 1590.2,1232.9 1601.7,1230.8 1613.3,1228.7 1624.9,1226.3 1636.5,1223.9 1648.1,1221.3 1659.7,1218.5 1671.3,1215.5 1682.9,1212.4 1694.5,1209.0 1706.1,1205.4 1717.7,1201.5 1729.3,1197.4 1740.9,1192.9 1752.5,1188.1 1764.1,1182.8 1775.7,1177.2 1787.2,1171.0 1798.8,1164.2 1810.4,1156.8 1822.0,1148.6 1833.6,1139.6 1845.2,1129.5 1856.8,1118.2 1868.4,1105.5 1869.6,1104.1 1870.7,1102.7 1871.9,1101.3 1873.1,1099.9 1874.2,1098.5 1875.4,1097.0 1876.6,1095.5 1877.7,1094.0 1878.9,1092.5 1880.1,1090.9 1881.3,1089.4 1882.4,1087.8 1883.6,1086.2 1884.8,1084.6 1885.9,1082.9 1887.1,1081.2 1888.3,1079.5 1889.4,1077.8 1890.6,1076.1 1891.8,1074.3 1892.9,1072.5 1894.1,1070.7 1895.3,1068.8 1896.4,1067.0 1897.6,1065.0 1898.8,1063.1 1900.0,1061.2 1901.1,1059.2 1902.3,1057.1 1903.5,1055.1 1904.6,1053.0 1905.8,1050.9 1907.0,1048.7 1908.1,1046.6 1909.3,1044.3 1910.5,1042.1 1911.6,1039.8 1912.8,1037.5 1914.0,1035.1 1915.1,1032.7 1916.3,1030.3 1917.5,1027.8 1918.6,1025.3 1919.8,1022.7 1921.0,1020.1 1922.2,1017.4 1923.3,1014.7 1924.5,1012.0 1925.7,1009.2 1926.8,1006.4 1928.0,1003.5 1929.2,1000.5 1930.3,997.6 1931.5,994.5 1932.7,991.4 1933.8,988.3 1935.0,985.0 1936.2,981.8 1937.3,978.4 1938.5,975.0 1939.7,971.6 1940.9,968.1 1942.0,964.5 1943.2,960.8 1944.4,957.1 1945.5,953.3 1946.7,949.4 1947.9,945.5 1949.0,941.4 1950.2,937.3 1951.4,933.1 1952.5,928.9 1953.7,924.5 1954.9,920.1 1956.0,915.5 1957.2,910.9 1958.4,906.2 1959.6,901.4 1960.7,896.5 1961.9,891.4 1963.1,886.3 1964.2,881.1 1965.4,875.8 1966.6,870.3 1967.7,864.8 1968.9,859.1 1970.1,853.3 1971.2,847.4 1972.4,841.3 1973.6,835.1 1974.7,828.8 1975.9,822.4 1977.1,815.8 1978.2,809.1 1979.4,802.3 1980.6,795.3 1981.8,788.1 1982.9,780.9 1984.1,773.4 1985.3,765.9 1986.4,758.1 1987.6,750.3 1988.8,742.2 1989.9,734.0 1991.1,725.7 1992.3,717.2 1993.4,708.6 1994.6,699.8 1995.8,690.9 1996.9,681.8 1998.1,672.6 1999.3,663.2 2000.5,653.7 2001.6,644.1 2002.8,634.4 2004.0,624.6 2005.1,614.7 2006.3,604.7 2007.5,594.7 2008.6,584.5 2009.8,574.4 2011.0,564.2 2012.1,554.1 2013.3,544.0 2014.5,533.9 2015.6,523.9 2016.8,514.0 2018.0,504.3 2019.1,494.7 2020.3,485.3 2021.5,476.2 2022.7,467.4 2023.8,458.9 2025.0,450.7 2026.2,443.0 2027.3,435.7 2028.5,428.9 2029.7,422.6 2030.8,416.9 2032.0,411.7 2033.2,407.2 2034.3,403.3 2035.5,400.0 2036.7,397.4 2037.8,395.4 2039.0,394.0 2040.2,393.3 2041.4,393.2 2042.5,393.7 2043.7,394.8 2044.9,396.5 2046.0,398.7 2047.2,401.5 2048.4,404.9 2049.5,408.8 2050.7,413.3 2051.9,418.2 2053.0,423.6 2054.2,429.5 2055.4,435.8 2056.5,442.4 2057.7,449.4 2058.9,456.8 2060.0,464.3 2061.2,472.2 2062.4,480.2 2063.6,488.3 2064.7,496.6 2065.9,505.0 2067.1,513.5 2068.2,522.1 2069.4,530.6 2070.6,539.2 2071.7,547.7 2072.9,556.3 2074.1,564.7 2075.2,573.2 2076.4,581.5 2077.6,589.8 2078.7,598.0 2079.9,606.1 2081.1,614.1 2082.3,622.0 2083.4,629.8 2084.6,637.5 2085.8,645.1 2086.9,652.5 2088.1,659.8 2089.3,667.0 2090.4,674.1 2091.6,681.1 2092.8,687.9 2093.9,694.6 2095.1,701.2 2096.3,707.6 2097.4,714.0 2098.6,720.2 2099.8,726.3 2101.0,732.2 2102.1,738.1 2103.3,743.8 2104.5,749.5 2105.6,755.0 2106.8,760.4 2108.0,765.7 2109.1,770.9 2110.3,776.0 2111.5,781.0 2112.6,785.9 2113.8,790.7 2115.0,795.4 2116.1,800.1 2117.3,804.6 2118.5,809.0 2119.6,813.4 2120.8,817.7 2122.0,821.9 2123.2,826.0 2124.3,830.0 2125.5,833.9 2126.7,837.8 2127.8,841.6 2129.0,845.4 2130.2,849.0 2131.3,852.6 2132.5,856.1 2133.7,859.6 2134.8,863.0 2136.0,866.3 2137.2,869.6 2138.3,872.8 2139.5,876.0 2140.7,879.1 2141.9,882.1 2143.0,885.1 2144.2,888.1 2145.4,891.0 2146.5,893.8 2147.7,896.6 2148.9,899.3 2150.0,902.0 2151.2,904.7 2152.4,907.3 2153.5,909.8 2154.7,912.3 2155.9,914.8 2157.0,917.3 2158.2,919.7 2159.4,922.0 2160.5,924.3 2161.7,926.6 2162.9,928.8 2164.1,931.1 2165.2,933.2 2166.4,935.4 2167.6,937.5 2168.7,939.5 2169.9,941.6 2171.1,943.6 2176.4,952.3 2181.7,960.5 2187.0,968.2 2192.3,975.4 2197.6,982.2 2202.8,988.6 2208.1,994.7 2213.4,1000.4 2218.7,1005.8 2224.0,1011.0 2229.3,1015.8 2234.6,1020.4 2239.9,1024.8 2245.2,1028.9 2250.5,1032.8 2255.8,1036.6 2261.1,1040.1 2266.4,1043.5 2271.7,1046.7 2277.0,1049.7 2282.3,1052.6 2287.6,1055.4 2292.9,1058.0 2298.2,1060.5 2303.5,1062.8 2308.8,1065.0 2314.1,1067.1 2319.4,1069.1 2324.7,1071.0" stroke="#b93f94" stroke-width="8.8"/>
<polyline points="1184.4,1259.8 1196.0,1259.8 1207.6,1259.8 1219.2,1259.8 1230.7,1259.8 1242.3,1259.7 1253.9,1259.5 1265.5,1259.3 1277.1,1259.0 1288.7,1258.7 1300.3,1258.4 1311.9,1258.1 1323.5,1257.7 1335.1,1257.2 1346.7,1256.7 1358.3,1256.2 1369.9,1255.6 1381.5,1254.9 1393.1,1254.2 1404.7,1253.5 1416.2,1252.7 1427.8,1251.8 1439.4,1250.9 1451.0,1249.9 1462.6,1248.8 1474.2,1247.7 1485.8,1246.5 1497.4,1245.2 1509.0,1243.9 1520.6,1242.5 1532.2,1241.0 1543.8,1239.4 1555.4,1237.7 1567.0,1235.9 1578.6,1233.9 1590.2,1231.9 1601.7,1229.8 1613.3,1227.5 1624.9,1225.1 1636.5,1222.5 1648.1,1219.8 1659.7,1216.9 1671.3,1213.8 1682.9,1210.5 1694.5,1207.0 1706.1,1203.2 1717.7,1199.1 1729.3,1194.8 1740.9,1190.1 1752.5,1185.0 1764.1,1179.5 1775.7,1173.5 1787.2,1167.0 1798.8,1159.9 1810.4,1152.1 1822.0,1143.5 1833.6,1134.0 1845.2,1123.3 1856.8,1111.5 1868.4,1098.1 1869.6,1096.6 1870.7,1095.1 1871.9,1093.7 1873.1,1092.2 1874.2,1090.6 1875.4,1089.1 1876.6,1087.5 1877.7,1086.0 1878.9,1084.4 1880.1,1082.7 1881.3,1081.1 1882.4,1079.4 1883.6,1077.7 1884.8,1076.0 1885.9,1074.3 1887.1,1072.5 1888.3,1070.7 1889.4,1068.9 1890.6,1067.0 1891.8,1065.2 1892.9,1063.3 1894.1,1061.4 1895.3,1059.4 1896.4,1057.4 1897.6,1055.4 1898.8,1053.4 1900.0,1051.3 1901.1,1049.2 1902.3,1047.1 1903.5,1044.9 1904.6,1042.7 1905.8,1040.5 1907.0,1038.2 1908.1,1035.9 1909.3,1033.6 1910.5,1031.2 1911.6,1028.8 1912.8,1026.4 1914.0,1023.9 1915.1,1021.4 1916.3,1018.8 1917.5,1016.2 1918.6,1013.5 1919.8,1010.8 1921.0,1008.1 1922.2,1005.3 1923.3,1002.4 1924.5,999.6 1925.7,996.6 1926.8,993.6 1928.0,990.6 1929.2,987.5 1930.3,984.4 1931.5,981.1 1932.7,977.9 1933.8,974.6 1935.0,971.2 1936.2,967.7 1937.3,964.2 1938.5,960.7 1939.7,957.0 1940.9,953.3 1942.0,949.6 1943.2,945.7 1944.4,941.8 1945.5,937.8 1946.7,933.8 1947.9,929.6 1949.0,925.4 1950.2,921.1 1951.4,916.7 1952.5,912.2 1953.7,907.7 1954.9,903.0 1956.0,898.3 1957.2,893.4 1958.4,888.5 1959.6,883.4 1960.7,878.3 1961.9,873.1 1963.1,867.7 1964.2,862.3 1965.4,856.7 1966.6,851.0 1967.7,845.2 1968.9,839.3 1970.1,833.3 1971.2,827.1 1972.4,820.8 1973.6,814.4 1974.7,807.9 1975.9,801.2 1977.1,794.4 1978.2,787.5 1979.4,780.4 1980.6,773.2 1981.8,765.9 1982.9,758.4 1984.1,750.8 1985.3,743.0 1986.4,735.1 1987.6,727.0 1988.8,718.8 1989.9,710.5 1991.1,702.0 1992.3,693.4 1993.4,684.7 1994.6,675.8 1995.8,666.8 1996.9,657.7 1998.1,648.4 1999.3,639.1 2000.5,629.7 2001.6,620.1 2002.8,610.5 2004.0,600.9 2005.1,591.1 2006.3,581.4 2007.5,571.6 2008.6,561.8 2009.8,552.1 2011.0,542.3 2012.1,532.7 2013.3,523.1 2014.5,513.6 2015.6,504.3 2016.8,495.2 2018.0,486.2 2019.1,477.5 2020.3,469.1 2021.5,461.0 2022.7,453.2 2023.8,445.8 2025.0,438.8 2026.2,432.3 2027.3,426.2 2028.5,420.7 2029.7,415.7 2030.8,411.2 2032.0,407.3 2033.2,404.0 2034.3,401.3 2035.5,399.2 2036.7,397.6 2037.8,396.7 2039.0,396.3 2040.2,396.5 2041.4,397.3 2042.5,398.6 2043.7,400.5 2044.9,403.0 2046.0,406.0 2047.2,409.5 2048.4,413.4 2049.5,417.9 2050.7,422.8 2051.9,428.2 2053.0,433.9 2054.2,440.0 2055.4,446.4 2056.5,453.1 2057.7,460.1 2058.9,467.3 2060.0,474.7 2061.2,482.3 2062.4,490.0 2063.6,497.9 2064.7,505.8 2065.9,513.8 2067.1,521.9 2068.2,530.0 2069.4,538.1 2070.6,546.2 2071.7,554.2 2072.9,562.3 2074.1,570.3 2075.2,578.3 2076.4,586.2 2077.6,594.0 2078.7,601.7 2079.9,609.4 2081.1,617.0 2082.3,624.5 2083.4,631.9 2084.6,639.1 2085.8,646.3 2086.9,653.4 2088.1,660.4 2089.3,667.2 2090.4,674.0 2091.6,680.6 2092.8,687.1 2093.9,693.6 2095.1,699.9 2096.3,706.0 2097.4,712.1 2098.6,718.1 2099.8,724.0 2101.0,729.7 2102.1,735.4 2103.3,740.9 2104.5,746.4 2105.6,751.7 2106.8,757.0 2108.0,762.1 2109.1,767.2 2110.3,772.1 2111.5,777.0 2112.6,781.7 2113.8,786.4 2115.0,791.0 2116.1,795.5 2117.3,800.0 2118.5,804.3 2119.6,808.6 2120.8,812.7 2122.0,816.9 2123.2,820.9 2124.3,824.8 2125.5,828.7 2126.7,832.5 2127.8,836.3 2129.0,840.0 2130.2,843.6 2131.3,847.1 2132.5,850.6 2133.7,854.0 2134.8,857.4 2136.0,860.7 2137.2,863.9 2138.3,867.1 2139.5,870.3 2140.7,873.3 2141.9,876.4 2143.0,879.3 2144.2,882.3 2145.4,885.1 2146.5,887.9 2147.7,890.7 2148.9,893.5 2150.0,896.1 2151.2,898.8 2152.4,901.4 2153.5,903.9 2154.7,906.5 2155.9,908.9 2157.0,911.4 2158.2,913.8 2159.4,916.1 2160.5,918.4 2161.7,920.7 2162.9,923.0 2164.1,925.2 2165.2,927.4 2166.4,929.5 2167.6,931.6 2168.7,933.7 2169.9,935.8 2171.1,937.8 2176.4,946.6 2181.7,954.9 2187.0,962.6 2192.3,969.9 2197.6,976.8 2202.8,983.3 2208.1,989.5 2213.4,995.3 2218.7,1000.8 2224.0,1006.0 2229.3,1010.9 2234.6,1015.6 2239.9,1020.1 2245.2,1024.3 2250.5,1028.3 2255.8,1032.2 2261.1,1035.8 2266.4,1039.3 2271.7,1042.6 2277.0,1045.8 2282.3,1048.8 2287.6,1051.6 2292.9,1054.3 2298.2,1056.9 2303.5,1059.4 2308.8,1061.7 2314.1,1064.0 2319.4,1066.1 2324.7,1068.1" stroke="#bdb81c" stroke-width="9.4"/>
</g>
<rect x="1226" y="422.3" width="163.5" height="18" fill="#4f4694"/>
<rect x="1226" y="519.8" width="163.5" height="18" fill="#007a33"/>
<rect x="1226" y="611.4" width="163.5" height="18" fill="#ff3324"/>
<rect x="1226" y="705.6" width="163.5" height="18" fill="#00b4ac"/>
<rect x="1226" y="798.4" width="163.5" height="18" fill="#b93f94"/>
<rect x="1226" y="890.7" width="163.5" height="18" fill="#bdb81c"/>
</g>
<g filter="url(#b4)">
<text x="1071.6" y="392.7" font-size="73" textLength="120.2" lengthAdjust="spacingAndGlyphs">100</text>
<text x="1090.4" y="481.7" font-size="73" textLength="81.6" lengthAdjust="spacingAndGlyphs">90</text>
<text x="1090.4" y="570.6" font-size="73" textLength="81.6" lengthAdjust="spacingAndGlyphs">80</text>
<text x="1091.1" y="659.6" font-size="73" textLength="81.0" lengthAdjust="spacingAndGlyphs">70</text>
<text x="1090.0" y="748.6" font-size="73" textLength="82.0" lengthAdjust="spacingAndGlyphs">60</text>
<text x="1090.8" y="837.5" font-size="73" textLength="81.2" lengthAdjust="spacingAndGlyphs">50</text>
<text x="1090.4" y="926.5" font-size="73" textLength="81.7" lengthAdjust="spacingAndGlyphs">40</text>
<text x="1090.8" y="1015.5" font-size="73" textLength="81.2" lengthAdjust="spacingAndGlyphs">30</text>
<text x="1089.3" y="1104.5" font-size="73" textLength="82.8" lengthAdjust="spacingAndGlyphs">20</text>
<text x="1092.5" y="1193.4" font-size="73" textLength="79.4" lengthAdjust="spacingAndGlyphs">10</text>
<text x="1119.5" y="1273.0" font-size="73" textLength="41.8" lengthAdjust="spacingAndGlyphs">0</text>
<text x="1158.9" y="1336.3" font-size="73" textLength="42.0" lengthAdjust="spacingAndGlyphs">0</text>
<text x="1320.4" y="1336.3" font-size="73" textLength="144.1" lengthAdjust="spacingAndGlyphs">0.25</text>
<text x="1517.6" y="1336.3" font-size="73" textLength="103.4" lengthAdjust="spacingAndGlyphs">0.5</text>
<text x="1693.8" y="1336.3" font-size="73" textLength="144.1" lengthAdjust="spacingAndGlyphs">0.75</text>
<text x="1905.3" y="1336.3" font-size="73" textLength="38.8" lengthAdjust="spacingAndGlyphs">1</text>
<text x="2069.5" y="1336.3" font-size="73" textLength="142.8" lengthAdjust="spacingAndGlyphs">1.25</text>
<text x="2267.9" y="1336.3" font-size="73" textLength="101.3" lengthAdjust="spacingAndGlyphs">1.5</text>
<text><tspan x="1435.5" y="1447.9" font-size="78" font-weight="normal" textLength="364.5" lengthAdjust="spacingAndGlyphs">Frequency</tspan> <tspan x="1821.0" y="1446.5" font-size="76" font-weight="normal" textLength="180.7" lengthAdjust="spacingAndGlyphs">(THz)</tspan></text>
<text transform="translate(1026.3,1356.2) rotate(-90)"><tspan x="-7.5" y="0.0" font-size="78" font-weight="normal" textLength="69.8" lengthAdjust="spacingAndGlyphs">In</tspan> <tspan x="79.0" y="0.0" font-size="78" font-weight="normal" textLength="143.0" lengthAdjust="spacingAndGlyphs">Gap</tspan> <tspan x="241.9" y="0.0" font-size="78" font-weight="normal" textLength="38.1" lengthAdjust="spacingAndGlyphs">E</tspan> <tspan x="298.4" y="0.0" font-size="78" font-weight="normal" textLength="166.4" lengthAdjust="spacingAndGlyphs">Field</tspan> <tspan x="484.5" y="0.0" font-size="78" font-weight="normal" textLength="26.1" lengthAdjust="spacingAndGlyphs">/</tspan> <tspan x="525.7" y="0.0" font-size="78" font-weight="normal" textLength="289.0" lengthAdjust="spacingAndGlyphs">Incident</tspan> <tspan x="833.5" y="0.0" font-size="78" font-weight="normal" textLength="40.0" lengthAdjust="spacingAndGlyphs">E</tspan> <tspan x="890.7" y="0.0" font-size="78" font-weight="normal" textLength="168.4" lengthAdjust="spacingAndGlyphs">Field</tspan></text>
<text><tspan x="1391.4" y="452.9" font-size="67" font-weight="normal" textLength="45.6" lengthAdjust="spacingAndGlyphs">L</tspan><tspan x="1427.2" y="481.8" font-size="47.5" font-weight="normal" textLength="110.1" lengthAdjust="spacingAndGlyphs">shift</tspan> <tspan x="1546.3" y="458.2" font-size="64" font-weight="normal" textLength="51.9" lengthAdjust="spacingAndGlyphs">=</tspan> <tspan x="1639.1" y="452.9" font-size="66.5" font-weight="normal" textLength="45.3" lengthAdjust="spacingAndGlyphs">0</tspan> <tspan x="1715.7" y="453.5" font-size="60" textLength="51.0" lengthAdjust="spacingAndGlyphs" style="font-family:'Liberation Serif',serif">μ</tspan><tspan x="1772.9" y="452.9" font-size="66.5" font-weight="normal" textLength="69.1" lengthAdjust="spacingAndGlyphs">m</tspan></text>
<text><tspan x="1611.8" y="545.0" font-size="66.5" font-weight="normal" textLength="87.0" lengthAdjust="spacingAndGlyphs">10</tspan> <tspan x="1715.7" y="545.6" font-size="60" textLength="51.0" lengthAdjust="spacingAndGlyphs" style="font-family:'Liberation Serif',serif">μ</tspan><tspan x="1772.9" y="545.0" font-size="66.5" font-weight="normal" textLength="69.1" lengthAdjust="spacingAndGlyphs">m</tspan></text>
<text><tspan x="1611.9" y="637.5" font-size="66.5" font-weight="normal" textLength="86.2" lengthAdjust="spacingAndGlyphs">15</tspan> <tspan x="1715.7" y="638.1" font-size="60" textLength="51.0" lengthAdjust="spacingAndGlyphs" style="font-family:'Liberation Serif',serif">μ</tspan><tspan x="1772.9" y="637.5" font-size="66.5" font-weight="normal" textLength="69.1" lengthAdjust="spacingAndGlyphs">m</tspan></text>
<text><tspan x="1607.9" y="738.7" font-size="66.5" font-weight="normal" textLength="91.0" lengthAdjust="spacingAndGlyphs">20</tspan> <tspan x="1715.7" y="739.3" font-size="60" textLength="51.0" lengthAdjust="spacingAndGlyphs" style="font-family:'Liberation Serif',serif">μ</tspan><tspan x="1772.9" y="738.7" font-size="66.5" font-weight="normal" textLength="69.1" lengthAdjust="spacingAndGlyphs">m</tspan></text>
<text><tspan x="1607.9" y="831.1" font-size="66.5" font-weight="normal" textLength="90.3" lengthAdjust="spacingAndGlyphs">25</tspan> <tspan x="1715.7" y="831.7" font-size="60" textLength="51.0" lengthAdjust="spacingAndGlyphs" style="font-family:'Liberation Serif',serif">μ</tspan><tspan x="1772.9" y="831.1" font-size="66.5" font-weight="normal" textLength="69.1" lengthAdjust="spacingAndGlyphs">m</tspan></text>
<text><tspan x="1609.6" y="920.3" font-size="66.5" font-weight="normal" textLength="89.3" lengthAdjust="spacingAndGlyphs">30</tspan> <tspan x="1715.7" y="920.9" font-size="60" textLength="51.0" lengthAdjust="spacingAndGlyphs" style="font-family:'Liberation Serif',serif">μ</tspan><tspan x="1772.9" y="920.3" font-size="66.5" font-weight="normal" textLength="69.1" lengthAdjust="spacingAndGlyphs">m</tspan></text>
<text><tspan x="368.1" y="1669.9" font-size="62.5" font-weight="bold" textLength="16.4" lengthAdjust="spacingAndGlyphs">(</tspan><tspan x="388.8" y="1674.9" font-size="65" font-weight="bold" textLength="34.3" lengthAdjust="spacingAndGlyphs">a</tspan><tspan x="431.0" y="1669.9" font-size="62.5" font-weight="bold" textLength="15.9" lengthAdjust="spacingAndGlyphs">)</tspan></text>
<text><tspan x="1677.3" y="1669.9" font-size="62.5" font-weight="bold" textLength="18.3" lengthAdjust="spacingAndGlyphs">(</tspan><tspan x="1696.6" y="1674.9" font-size="68.5" font-weight="bold" textLength="45.2" lengthAdjust="spacingAndGlyphs">b</tspan><tspan x="1742.9" y="1669.9" font-size="62.5" font-weight="bold" textLength="19.7" lengthAdjust="spacingAndGlyphs">)</tspan></text>
</g>
</svg></body></html>
